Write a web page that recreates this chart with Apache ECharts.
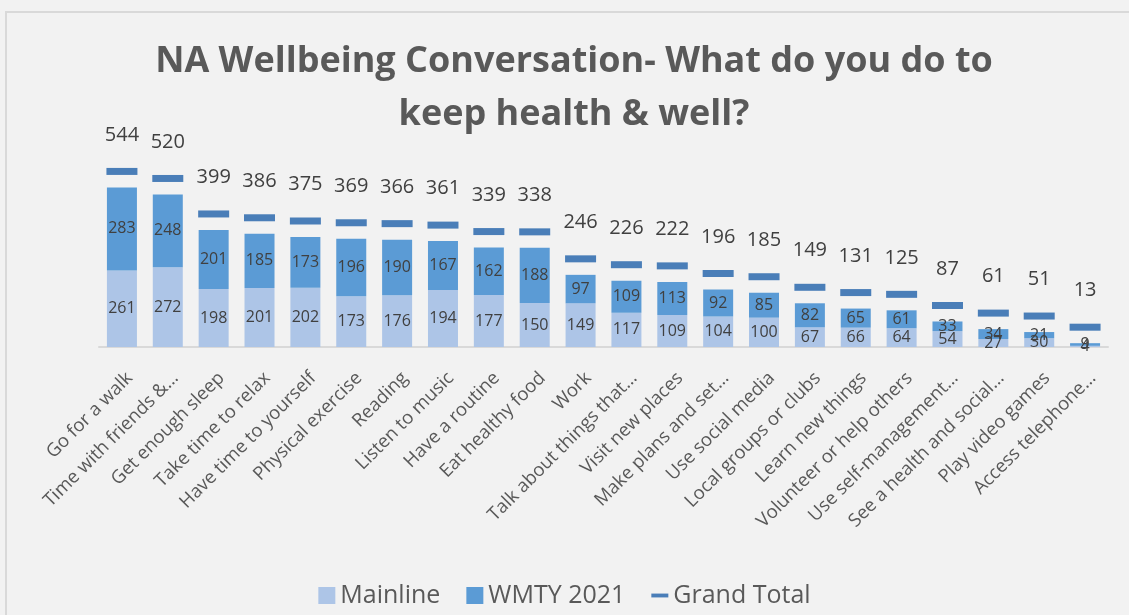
<!DOCTYPE html>
<html>
<head>
<meta charset="utf-8">
<script src="https://cdn.jsdelivr.net/npm/echarts@6/dist/echarts.min.js"></script>
<style>
  html, body { margin: 0; padding: 0; background: #f2f2f2; }
  #main { width: 1129px; height: 615px; }
</style>
</head>
<body>
<div id="main"></div>
<script>
// categories (Excel truncated the long ones)
const categories = [
  'Go for a walk', 'Time with friends &…', 'Get enough sleep', 'Take time to relax',
  'Have time to yourself', 'Physical exercise', 'Reading', 'Listen to music',
  'Have a routine', 'Eat healthy food', 'Work', 'Talk about things that…',
  'Visit new places', 'Make plans and set…', 'Use social media', 'Local groups or clubs',
  'Learn new things', 'Volunteer or help others', 'Use self-management…',
  'See a health and social…', 'Play video games', 'Access telephone…'
];
const mainline = [261, 272, 198, 201, 202, 173, 176, 194, 177, 150, 149, 117, 109, 104, 100, 67, 66, 64, 54, 27, 30, 4];
const wmty2021 = [283, 248, 201, 185, 173, 196, 190, 167, 162, 188, 97, 109, 113, 92, 85, 82, 65, 61, 33, 34, 21, 9];
const grandTotal = [544, 520, 399, 386, 375, 369, 366, 361, 339, 338, 246, 226, 222, 196, 185, 149, 131, 125, 87, 61, 51, 13];

const textColor = '#595959';
const font = 'Open Sans';

const chart = echarts.init(document.getElementById('main'));

const option = {
  backgroundColor: '#f2f2f2',
  textStyle: { fontFamily: font },
  graphic: [{
    type: 'rect',
    shape: { x: 6, y: 12, width: 1200, height: 700 },
    style: { fill: 'none', stroke: '#d9d9d9', lineWidth: 2 },
    silent: true
  }],
  title: {
    text: 'NA Wellbeing Conversation- What do you do to\nkeep health & well?',
    left: 569,
    textAlign: 'center',
    top: 30,
    textStyle: { fontSize: 36, fontWeight: 'bold', color: textColor, lineHeight: 53, fontFamily: font }
  },
  legend: {
    bottom: 2,
    left: 'center',
    itemWidth: 17,
    itemHeight: 17,
    itemGap: 26,
    textStyle: { fontSize: 25, color: textColor, fontFamily: font },
    data: [
      { name: 'Mainline', icon: 'rect' },
      { name: 'WMTY 2021', icon: 'rect' },
      { name: 'Grand Total', icon: 'path://M0,0H22V5H0Z' }
    ]
  },
  grid: { left: 99, right: 21, top: 171, bottom: 268 },
  xAxis: {
    type: 'category',
    data: categories,
    axisLine: { lineStyle: { color: '#d9d9d9', width: 2 } },
    axisTick: { show: false },
    axisLabel: {
      interval: 0, rotate: 45, fontSize: 18.5, color: textColor, margin: 36,
      padding: [0, -11, 0, 0], fontFamily: font
    }
  },
  yAxis: {
    type: 'value',
    min: 0,
    max: 600,
    show: false,
    splitLine: { show: false }
  },
  series: [
    {
      name: 'Mainline',
      type: 'bar',
      stack: 'total',
      barWidth: 30,
      data: mainline,
      itemStyle: { color: '#adc5e7' },
      label: { show: true, position: 'inside', fontSize: 16, color: '#404040', fontFamily: font }
    },
    {
      name: 'WMTY 2021',
      type: 'bar',
      stack: 'total',
      barWidth: 30,
      data: wmty2021,
      itemStyle: { color: '#5b9bd5' },
      label: { show: true, position: 'inside', fontSize: 16, color: '#404040', fontFamily: font }
    },
    {
      name: 'Grand Total',
      type: 'line',
      data: grandTotal,
      symbol: 'rect',
      symbolSize: [31, 7],
      symbolOffset: [0, -16],
      lineStyle: { opacity: 0 },
      itemStyle: { color: '#4a7eb8' },
      label: { show: true, position: 'top', distance: 23, fontSize: 20, color: '#404040', fontFamily: font },
      z: 5
    }
  ]
};

option && chart.setOption(option);
</script>
</body>
</html>
